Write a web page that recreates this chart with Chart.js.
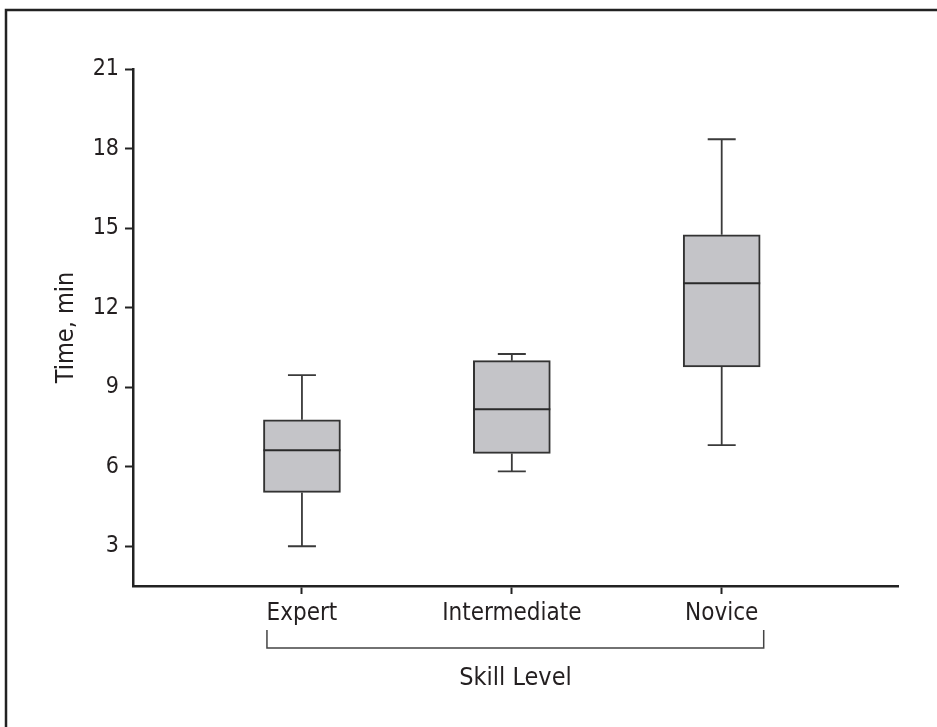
<!DOCTYPE html>
<html>
<head>
<meta charset="utf-8">
<script src="https://cdn.jsdelivr.net/npm/chart.js@4/dist/chart.umd.min.js"></script>
<style>
  body { margin: 0; background: #fff; }
  #wrap { width: 937px; height: 727px; position: relative; }
</style>
</head>
<body>
<div id="wrap"><canvas id="boxChart"></canvas></div>
<script>
// values (minutes)
const categories = ['Expert', 'Intermediate', 'Novice'];
const positions = [1, 2, 3];
const whiskerLow = [3.0, 5.82, 6.81];
const q1 = [5.03, 6.5, 9.76];
const median = [6.62, 8.17, 12.92];
const q3 = [7.77, 10.0, 14.75];
const whiskerHigh = [9.45, 10.25, 18.35];
const yTicks = [3, 6, 9, 12, 15, 18, 21];

const ink = '#231f20';
const boxFill = '#c4c4c8';
const fontFamily = '"Liberation Sans Narrow", "DejaVu Sans Condensed", "Roboto", sans-serif';
const boxWidth = 77;
const capWidth = 28;

// whiskers, medians, frame and the bracket under the category labels
const boxExtras = {
  id: 'boxExtras',
  afterDatasetsDraw(chart) {
    const ctx = chart.ctx;
    const xs = chart.scales.x;
    const ys = chart.scales.y;
    ctx.save();
    positions.forEach((p, i) => {
      const cx = xs.getPixelForValue(p);
      const yLo = ys.getPixelForValue(whiskerLow[i]);
      const yQ1 = ys.getPixelForValue(q1[i]);
      const yQ3 = ys.getPixelForValue(q3[i]);
      const yHi = ys.getPixelForValue(whiskerHigh[i]);
      const yMed = ys.getPixelForValue(median[i]);
      ctx.strokeStyle = '#3a3a3a';
      ctx.lineWidth = 1.8;
      ctx.beginPath();
      ctx.moveTo(cx, yQ3); ctx.lineTo(cx, yHi);
      ctx.moveTo(cx - capWidth / 2, yHi); ctx.lineTo(cx + capWidth / 2, yHi);
      ctx.moveTo(cx, yQ1); ctx.lineTo(cx, yLo);
      ctx.moveTo(cx - capWidth / 2, yLo); ctx.lineTo(cx + capWidth / 2, yLo);
      ctx.stroke();
      ctx.lineWidth = 2;
      ctx.strokeStyle = '#2a2a2a';
      ctx.beginPath();
      ctx.moveTo(cx - boxWidth / 2, yMed); ctx.lineTo(cx + boxWidth / 2, yMed);
      ctx.stroke();
    });
    ctx.restore();
  },
  afterDraw(chart) {
    const ctx = chart.ctx;
    const xs = chart.scales.x;
    ctx.save();
    // bracket grouping the skill levels
    const left = xs.getPixelForValue(positions[0]) - 35;
    const right = xs.getPixelForValue(positions[2]) + 42;
    ctx.strokeStyle = '#444';
    ctx.lineWidth = 1.5;
    ctx.beginPath();
    ctx.moveTo(left, 630); ctx.lineTo(left, 648);
    ctx.lineTo(right, 648); ctx.lineTo(right, 630);
    ctx.stroke();
    // page frame
    ctx.strokeStyle = '#222';
    ctx.lineWidth = 2.5;
    ctx.beginPath();
    ctx.moveTo(6, chart.height); ctx.lineTo(6, 10); ctx.lineTo(chart.width, 10);
    ctx.stroke();
    ctx.restore();
  }
};

const ctx = document.getElementById('boxChart').getContext('2d');
new Chart(ctx, {
  type: 'bar',
  data: {
    datasets: [{
      data: positions.map((p, i) => ({ x: p, y: [q1[i], q3[i]] })),
      backgroundColor: boxFill,
      borderColor: '#333',
      borderWidth: 2,
      borderSkipped: false,
      barThickness: boxWidth
    }]
  },
  options: {
    responsive: true,
    maintainAspectRatio: false,
    animation: false,
    layout: { padding: { top: 69, right: 39, left: 0, bottom: 0 } },
    plugins: { legend: { display: false }, tooltip: { enabled: false } },
    scales: {
      x: {
        type: 'linear',
        min: 0.195,
        max: 3.84,
        offset: false,
        afterFit: s => { s.height = 141; },
        afterBuildTicks: s => { s.ticks = positions.map(v => ({ value: v })); },
        ticks: {
          callback: v => categories[positions.indexOf(v)] || '',
          color: ink,
          font: { family: fontFamily, size: 24 },
          padding: 5,
          maxRotation: 0
        },
        grid: { offset: false, drawOnChartArea: false, drawTicks: true, tickLength: 8, tickWidth: 2, tickColor: '#222' },
        border: { display: true, color: '#222', width: 2.5 },
        title: {
          display: true,
          text: 'Skill Level',
          color: ink,
          font: { family: fontFamily, size: 25 },
          padding: { top: 0, bottom: 34 }
        }
      },
      y: {
        min: 1.5,
        max: 21,
        afterFit: s => { s.width = 133; },
        afterBuildTicks: s => { s.ticks = yTicks.map(v => ({ value: v })); },
        ticks: {
          color: ink,
          font: { family: fontFamily, size: 23 },
          padding: 6
        },
        grid: { drawOnChartArea: false, drawTicks: true, tickLength: 8, tickWidth: 2, tickColor: '#222' },
        border: { display: true, color: '#222', width: 2.5 },
        title: {
          display: true,
          text: 'Time, min',
          color: ink,
          font: { family: fontFamily, size: 25 },
          padding: { top: 51, bottom: 0 }
        }
      }
    }
  },
  plugins: [boxExtras]
});
</script>
</body>
</html>
